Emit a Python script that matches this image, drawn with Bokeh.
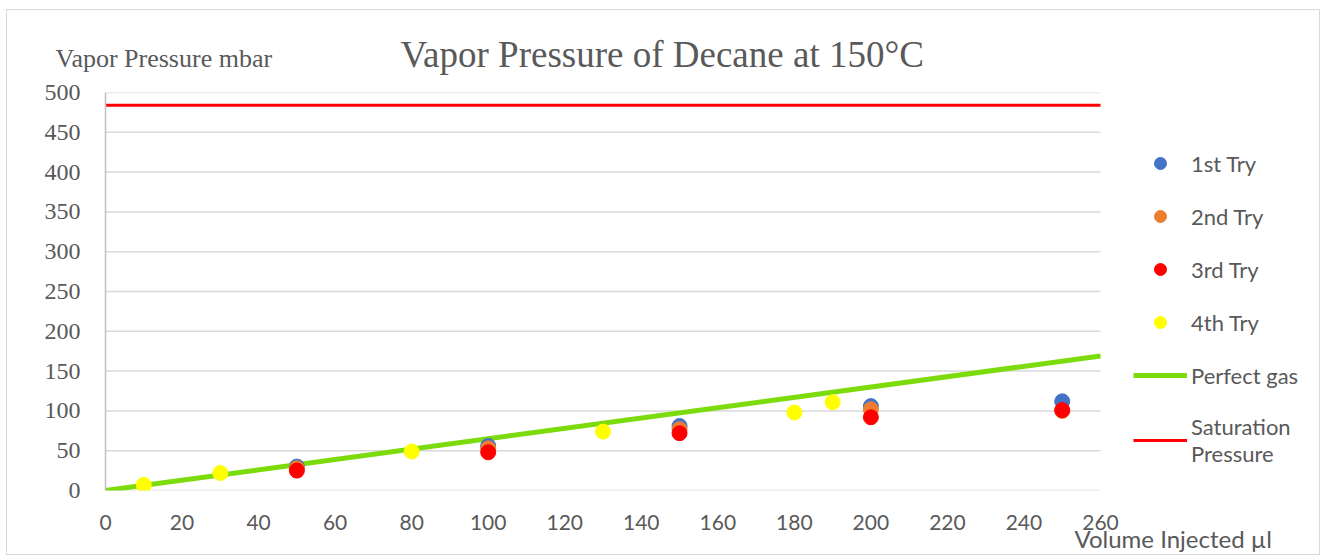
from bokeh.plotting import figure
from bokeh.models import Legend, LegendItem, Range1d, FixedTicker, Title
from bokeh.embed import file_html
from bokeh.resources import INLINE

# ---- data ----
try1_x = [50, 100, 150, 200, 250]
try1_y = [30, 56, 81, 106, 112]
try2_x = [50, 100, 150, 200, 250]
try2_y = [28, 53, 77, 102, 100]
try3_x = [50, 100, 150, 200, 250]
try3_y = [25, 48, 72, 92, 101]
try4_x = [10, 30, 80, 130, 180, 190]
try4_y = [7, 22, 49, 74, 98, 111]
perfect_x = [0, 260]
perfect_y = [0, 169]
saturation_x = [0, 260]
saturation_y = [484, 484]
x_ticks = [0, 20, 40, 60, 80, 100, 120, 140, 160, 180, 200, 220, 240, 260]
y_ticks = [0, 50, 100, 150, 200, 250, 300, 350, 400, 450, 500]

GREY = "#595959"
SERIF = "Liberation Serif, serif"

# layout (pixels)
FIG_W, FIG_H = 1314, 546
LEFT, TOP, BOTTOM = 98, 82, 66
AXIS_PX = 995                       # width of the 0..260 plot area
X_MAX = x_ticks[-1]
x_end = X_MAX * (FIG_W - LEFT) / AXIS_PX   # frame also hosts the legend on the right

p = figure(width=FIG_W, height=FIG_H, output_backend="svg", toolbar_location=None,
           x_range=Range1d(0, x_end), y_range=Range1d(0, y_ticks[-1]),
           min_border_left=LEFT, min_border_right=0, min_border_top=TOP,
           min_border_bottom=BOTTOM)
p.styles = {"border": "1px solid #D9D9D9", "margin-left": "6px", "margin-top": "9px"}
p.outline_line_color = None
p.background_fill_color = "white"
p.border_fill_color = "white"

# outer "above" title: y-axis caption
p.title.text = "Vapor Pressure mbar"
p.title.align = "left"
p.title.offset = -50
p.title.text_font = SERIF
p.title.text_font_size = "26px"
p.title.text_font_style = "normal"
p.title.text_color = GREY
p.title.standoff = -119

# inner "above" title: chart title
p.add_layout(Title(text="Vapor Pressure of Decane at 150°C", align="left", offset=295,
                   text_font=SERIF, text_font_size="37px", text_font_style="normal",
                   text_color=GREY, standoff=36), "above")

# x-axis caption
p.add_layout(Title(text="Volume Injected µl", align="left", offset=969,
                   text_font="Lato", text_font_size="24px", text_font_style="normal",
                   text_color=GREY, standoff=-21), "below")

# axes
p.xaxis.ticker = FixedTicker(ticks=x_ticks)
p.yaxis.ticker = FixedTicker(ticks=y_ticks)
p.xaxis.axis_line_color = None
p.xaxis.major_tick_line_color = None
p.xaxis.minor_tick_line_color = None
p.xaxis.major_label_text_font = "Lato"
p.xaxis.major_label_text_font_size = "21px"
p.xaxis.major_label_text_color = GREY
p.xaxis.major_label_standoff = 18
p.yaxis.axis_line_color = "#BFBFBF"
p.yaxis.axis_line_width = 1.5
p.yaxis.major_tick_line_color = None
p.yaxis.minor_tick_line_color = None
p.yaxis.major_label_text_font = SERIF
p.yaxis.major_label_text_font_size = "24px"
p.yaxis.major_label_text_color = GREY
p.yaxis.major_label_standoff = 19
p.xgrid.grid_line_color = None
p.ygrid.grid_line_color = None

# horizontal gridlines limited to the 0..260 plot area
p.segment(x0=[0] * len(y_ticks), x1=[X_MAX] * len(y_ticks), y0=y_ticks, y1=y_ticks,
          line_color="#D9D9D9", line_width=1.5)

# lines first, markers on top
r5 = p.line(perfect_x, perfect_y, line_width=5, color="#7CDB0B")
r6 = p.line(saturation_x, saturation_y, line_width=3, color="#FF0000")
r1 = p.scatter(try1_x, try1_y, size=15, color="#4472C4")
r2 = p.scatter(try2_x, try2_y, size=15, color="#ED7D31")
r3 = p.scatter(try3_x, try3_y, size=15, color="#FF0000")
r4 = p.scatter(try4_x, try4_y, size=15, color="#FFFF00")

legend = Legend(items=[
    LegendItem(label="1st Try", renderers=[r1]),
    LegendItem(label="2nd Try", renderers=[r2]),
    LegendItem(label="3rd Try", renderers=[r3]),
    LegendItem(label="4th Try", renderers=[r4]),
    LegendItem(label="Perfect gas", renderers=[r5]),
    LegendItem(label="Saturation\nPressure", renderers=[r6]),
], location=(AXIS_PX + 33, 23), padding=0, margin=0, border_line_color=None,
    background_fill_alpha=0, glyph_width=54, glyph_height=30, label_height=20,
    spacing=23, label_standoff=4, label_text_font="Lato",
    label_text_font_size="22px", label_text_color=GREY)
p.add_layout(legend, "center")

open("out.html", "w").write(file_html(p, INLINE))
